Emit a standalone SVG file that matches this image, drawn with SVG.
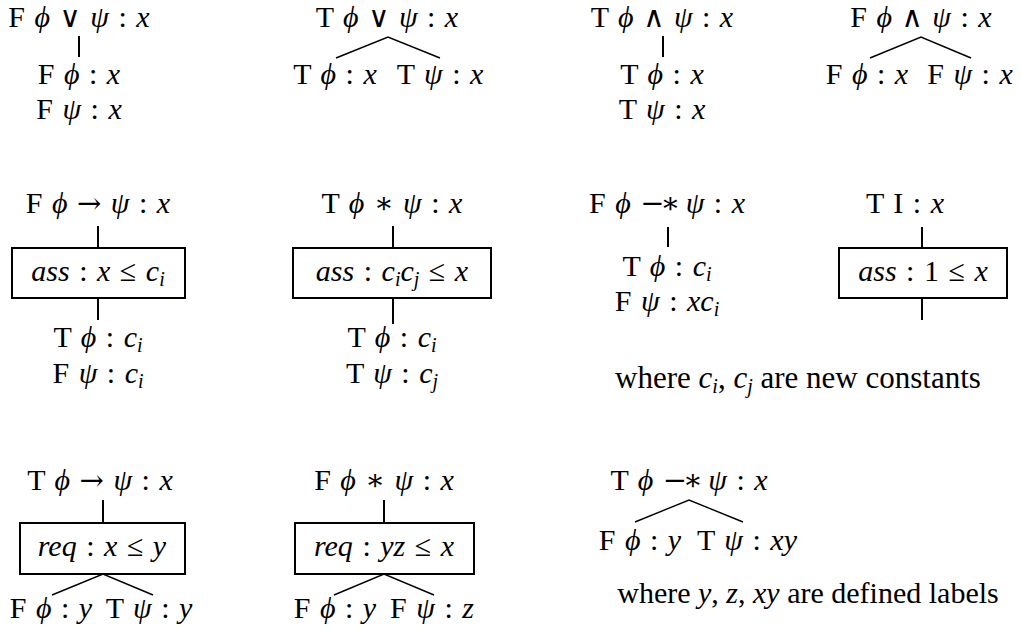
<svg xmlns="http://www.w3.org/2000/svg" width="1021" height="635" viewBox="0 0 1021 635">
<style>
text{font-family:"Liberation Serif","DejaVu Serif",serif;font-size:30px;fill:#000;text-anchor:middle;word-spacing:2px}
.i{font-style:italic}
.o{font-family:"DejaVu Serif","Liberation Serif",serif;font-size:29px}
.w{letter-spacing:-4px}
.s{font-size:20px;font-style:italic}
.n{word-spacing:0}
.v{stroke:#000;stroke-width:2;fill:none}
.d{stroke:#000;stroke-width:1.4;fill:none}
.b{fill:#fff;stroke:#000;stroke-width:2}
</style>
<rect width="1021" height="635" fill="#fff"/>
<g id="connectors">
<line class="v" x1="79" y1="36" x2="79" y2="57"/>
<polyline class="d" points="336,58 388,37 440,58"/>
<line class="v" x1="663" y1="36" x2="663" y2="57"/>
<polyline class="d" points="870,58 921,37 971,58"/>
<line class="v" x1="98" y1="226" x2="98" y2="248"/>
<line class="v" x1="98" y1="298" x2="98" y2="320"/>
<line class="v" x1="393" y1="226" x2="393" y2="248"/>
<line class="v" x1="393" y1="298" x2="393" y2="324"/>
<line class="v" x1="668" y1="227" x2="668" y2="247"/>
<line class="v" x1="922" y1="227" x2="922" y2="248"/>
<line class="v" x1="922" y1="298" x2="922" y2="320"/>
<line class="v" x1="103" y1="500" x2="103" y2="523"/>
<polyline class="d" points="52,595 103,574 153,595"/>
<line class="v" x1="384" y1="500" x2="384" y2="523"/>
<polyline class="d" points="334,595 384,574 434,595"/>
<polyline class="d" points="635,522 689,500 743,522"/>
</g>
<g id="or-false">
<text x="79" y="27">F <tspan class="i">ϕ</tspan> <tspan class="o">∨</tspan> <tspan class="i">ψ</tspan> : <tspan class="i">x</tspan></text>
<text x="79" y="84">F <tspan class="i">ϕ</tspan> : <tspan class="i">x</tspan></text>
<text x="79" y="119">F <tspan class="i">ψ</tspan> : <tspan class="i">x</tspan></text>
</g>
<g id="or-true">
<text x="387" y="27">T <tspan class="i">ϕ</tspan> <tspan class="o">∨</tspan> <tspan class="i">ψ</tspan> : <tspan class="i">x</tspan></text>
<text x="335" y="84">T <tspan class="i">ϕ</tspan> : <tspan class="i">x</tspan></text>
<text x="440" y="84">T <tspan class="i">ψ</tspan> : <tspan class="i">x</tspan></text>
</g>
<g id="and-true">
<text x="662" y="27">T <tspan class="i">ϕ</tspan> <tspan class="o">∧</tspan> <tspan class="i">ψ</tspan> : <tspan class="i">x</tspan></text>
<text x="662" y="84">T <tspan class="i">ϕ</tspan> : <tspan class="i">x</tspan></text>
<text x="662" y="119">T <tspan class="i">ψ</tspan> : <tspan class="i">x</tspan></text>
</g>
<g id="and-false">
<text x="921" y="27">F <tspan class="i">ϕ</tspan> <tspan class="o">∧</tspan> <tspan class="i">ψ</tspan> : <tspan class="i">x</tspan></text>
<text x="867" y="84">F <tspan class="i">ϕ</tspan> : <tspan class="i">x</tspan></text>
<text x="970" y="84">F <tspan class="i">ψ</tspan> : <tspan class="i">x</tspan></text>
</g>
<g id="imp-false">
<text x="98" y="213">F <tspan class="i">ϕ</tspan> <tspan class="o">→</tspan> <tspan class="i">ψ</tspan> : <tspan class="i">x</tspan></text>
<rect class="b" x="12" y="248" width="173" height="50"/>
<text x="98" y="281"><tspan class="i">ass</tspan> : <tspan class="i">x</tspan> ≤ <tspan class="i">c</tspan><tspan class="s" dy="5">i</tspan></text>
<text x="98" y="347">T <tspan class="i">ϕ</tspan> : <tspan class="i">c</tspan><tspan class="s" dy="5">i</tspan></text>
<text x="98" y="383">F <tspan class="i">ψ</tspan> : <tspan class="i">c</tspan><tspan class="s" dy="5">i</tspan></text>
</g>
<g id="star-true">
<text x="392" y="213">T <tspan class="i">ϕ</tspan> <tspan class="o">∗</tspan> <tspan class="i">ψ</tspan> : <tspan class="i">x</tspan></text>
<rect class="b" x="293" y="248" width="198" height="50"/>
<text x="392" y="281"><tspan class="i">ass</tspan> : <tspan class="i">c</tspan><tspan class="s" dy="5">i</tspan><tspan class="i" dy="-5">c</tspan><tspan class="s" dy="5">j</tspan><tspan dy="-5"> ≤ </tspan><tspan class="i">x</tspan></text>
<text x="392" y="347">T <tspan class="i">ϕ</tspan> : <tspan class="i">c</tspan><tspan class="s" dy="5">i</tspan></text>
<text x="392" y="383">T <tspan class="i">ψ</tspan> : <tspan class="i">c</tspan><tspan class="s" dy="5">j</tspan></text>
</g>
<g id="wand-false">
<text x="667" y="213">F <tspan class="i">ϕ</tspan> <tspan class="o w">−∗</tspan> <tspan class="i">ψ</tspan> : <tspan class="i">x</tspan></text>
<text x="667" y="276">T <tspan class="i">ϕ</tspan> : <tspan class="i">c</tspan><tspan class="s" dy="5">i</tspan></text>
<text x="667" y="311">F <tspan class="i">ψ</tspan> : <tspan class="i">xc</tspan><tspan class="s" dy="5">i</tspan></text>
</g>
<g id="unit-true">
<text x="905" y="213">T I : <tspan class="i">x</tspan></text>
<rect class="b" x="839" y="248" width="168" height="50"/>
<text x="923" y="281"><tspan class="i">ass</tspan> : 1 ≤ <tspan class="i">x</tspan></text>
</g>
<g id="note-constants">
<text class="n" x="798" y="388" style="font-size:31px">where <tspan class="i">c</tspan><tspan class="s" dy="5">i</tspan><tspan dy="-5">, </tspan><tspan class="i">c</tspan><tspan class="s" dy="5">j</tspan><tspan dy="-5"> are new constants</tspan></text>
</g>
<g id="imp-true">
<text x="100" y="490">T <tspan class="i">ϕ</tspan> <tspan class="o">→</tspan> <tspan class="i">ψ</tspan> : <tspan class="i">x</tspan></text>
<rect class="b" x="20" y="523" width="165" height="51"/>
<text x="102" y="556"><tspan class="i">req</tspan> : <tspan class="i">x</tspan> ≤ <tspan class="i">y</tspan></text>
<text x="51" y="618">F <tspan class="i">ϕ</tspan> : <tspan class="i">y</tspan></text>
<text x="149" y="618">T <tspan class="i">ψ</tspan> : <tspan class="i">y</tspan></text>
</g>
<g id="star-false">
<text x="384" y="490">F <tspan class="i">ϕ</tspan> <tspan class="o">∗</tspan> <tspan class="i">ψ</tspan> : <tspan class="i">x</tspan></text>
<rect class="b" x="295" y="523" width="179" height="51"/>
<text x="384" y="556"><tspan class="i">req</tspan> : <tspan class="i">yz</tspan> ≤ <tspan class="i">x</tspan></text>
<text x="335" y="618">F <tspan class="i">ϕ</tspan> : <tspan class="i">y</tspan></text>
<text x="432" y="618">F <tspan class="i">ψ</tspan> : <tspan class="i">z</tspan></text>
</g>
<g id="wand-true">
<text x="689" y="490">T <tspan class="i">ϕ</tspan> <tspan class="o w">−∗</tspan> <tspan class="i">ψ</tspan> : <tspan class="i">x</tspan></text>
<text x="640" y="550">F <tspan class="i">ϕ</tspan> : <tspan class="i">y</tspan></text>
<text x="747" y="550">T <tspan class="i">ψ</tspan> : <tspan class="i">xy</tspan></text>
</g>
<g id="note-labels">
<text class="n" x="808" y="603">where <tspan class="i">y</tspan>, <tspan class="i">z</tspan>, <tspan class="i">xy</tspan> are defined labels</text>
</g>
</svg>
